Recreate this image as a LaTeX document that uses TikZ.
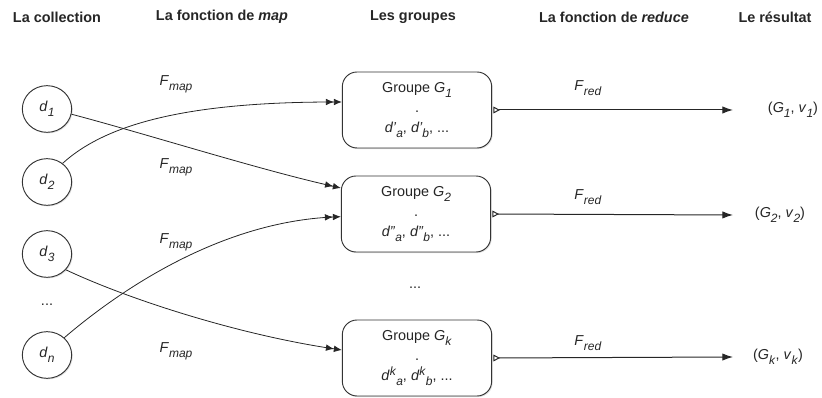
\documentclass[tikz,border=0pt]{standalone}
\usepackage{fontspec}
\setmainfont{Liberation Sans}
\usetikzlibrary{arrows.meta,shapes.geometric,shadows}
\newcommand{\isub}[2]{\textit{#1}\raisebox{-0.65ex}{\small\textit{#2}}}
\begin{document}
\begin{tikzpicture}[x=0.75pt,y=-0.75pt,
  every node/.style={font=\fontsize{10.8}{13}\selectfont, text=black!85},
  header/.style={font=\fontsize{10.8}{13}\selectfont\bfseries},
  datum/.style={ellipse, draw=black!80, line width=0.7pt, fill=white, minimum width=37pt, minimum height=35pt, inner sep=0pt,
    drop shadow={opacity=0.25, shadow xshift=0.8pt, shadow yshift=-0.8pt}},
  group/.style={rectangle, rounded corners=11pt, draw=black!80, line width=0.7pt, fill=white,
    minimum width=112pt, minimum height=57pt, align=center, inner sep=0pt,
    font=\fontsize{10.8}{15}\selectfont,
    drop shadow={opacity=0.25, shadow xshift=0.8pt, shadow yshift=-0.8pt}},
  maparrow/.style={draw=black!85, line width=0.6pt, -{Latex[length=6pt,width=5pt]Latex[length=6pt,width=5pt]}},
  redarrow/.style={draw=black!85, line width=0.75pt, {Triangle[open,reversed,length=5pt,width=5pt]}-{Latex[length=8pt,width=5.5pt]}},
  lbl/.style={inner sep=1pt}
]
\useasboundingbox (0,0) rectangle (822,398);

% headers
\node[header] (h1) at (57,17) {La collection};
\node[header] (h2) at (222,17) {La fonction de \textit{map}};
\node[header] (h3) at (413,17) {Les groupes};
\node[header] (h4) at (614,17) {La fonction de \textit{reduce}};
\node[header] (h5) at (775,17) {Le résultat};

% data
\node[datum] (d1) at (47,109) {\isub{d}{1}};
\node[datum] (d2) at (47,182) {\isub{d}{2}};
\node[datum] (d3) at (47,254) {\isub{d}{3}};
\node (dots1) at (47,305) {...};
\node[datum] (dn) at (47,355) {\isub{d}{n}};

% groups
\node[group] (g1) at (417,110) {Groupe \isub{G}{1}\\.\\\textit{d'}\raisebox{-0.65ex}{\small\textit{a}}, \textit{d'}\raisebox{-0.65ex}{\small\textit{b}}, ...};
\node[group] (g2) at (416,214) {Groupe \isub{G}{2}\\.\\\textit{d''}\raisebox{-0.65ex}{\small\textit{a}}, \textit{d''}\raisebox{-0.65ex}{\small\textit{b}}, ...};
\node (dots2) at (415,288) {...};
\node[group] (gk) at (417,358) {Groupe \isub{G}{k}\\.\\\textit{d}\raisebox{0.7ex}{\small\textit{k}}\raisebox{-0.65ex}{\small\textit{a}}, \textit{d}\raisebox{0.7ex}{\small\textit{k}}\raisebox{-0.65ex}{\small\textit{b}}, ...};

% results
\node (r1) at (793,110) {(\isub{G}{1}, \isub{v}{1})};
\node (r2) at (780,215) {(\isub{G}{2}, \isub{v}{2})};
\node (rk) at (778,357) {(\isub{G}{k}, \isub{v}{k})};

% map arrows
\draw[maparrow] (d1.-12) .. controls (150,135) and (260,170) .. ([yshift=19.5pt]g2.west);
\draw[maparrow] (d2.50) .. controls (110,120) and (200,102) .. ([yshift=6pt]g1.west);
\draw[maparrow] (d3.-40) .. controls (130,300) and (240,335) .. ([yshift=6pt]gk.west);
\draw[maparrow] (dn.45) .. controls (120,290) and (220,222) .. ([yshift=-2pt]g2.west);

% map labels
\node[lbl] (fm1) at (176,84) {\isub{F}{map}};
\node[lbl] (fm2) at (176,167) {\isub{F}{map}};
\node[lbl] (fm3) at (176,242) {\isub{F}{map}};
\node[lbl] (fm4) at (176,351) {\isub{F}{map}};

% reduce arrows
\draw[redarrow] ([xshift=1pt]g1.east) -- (r1.west -| 733,0);
\draw[redarrow] ([xshift=1pt]g2.east) -- (r2.west -| 733,0);
\draw[redarrow] ([xshift=1pt]gk.east) -- (rk.west -| 733,0);

% reduce labels
\node[lbl] (fr1) at (588,88) {\isub{F}{red}};
\node[lbl] (fr2) at (588,197) {\isub{F}{red}};
\node[lbl] (fr3) at (588,343) {\isub{F}{red}};
\end{tikzpicture}
\end{document}
